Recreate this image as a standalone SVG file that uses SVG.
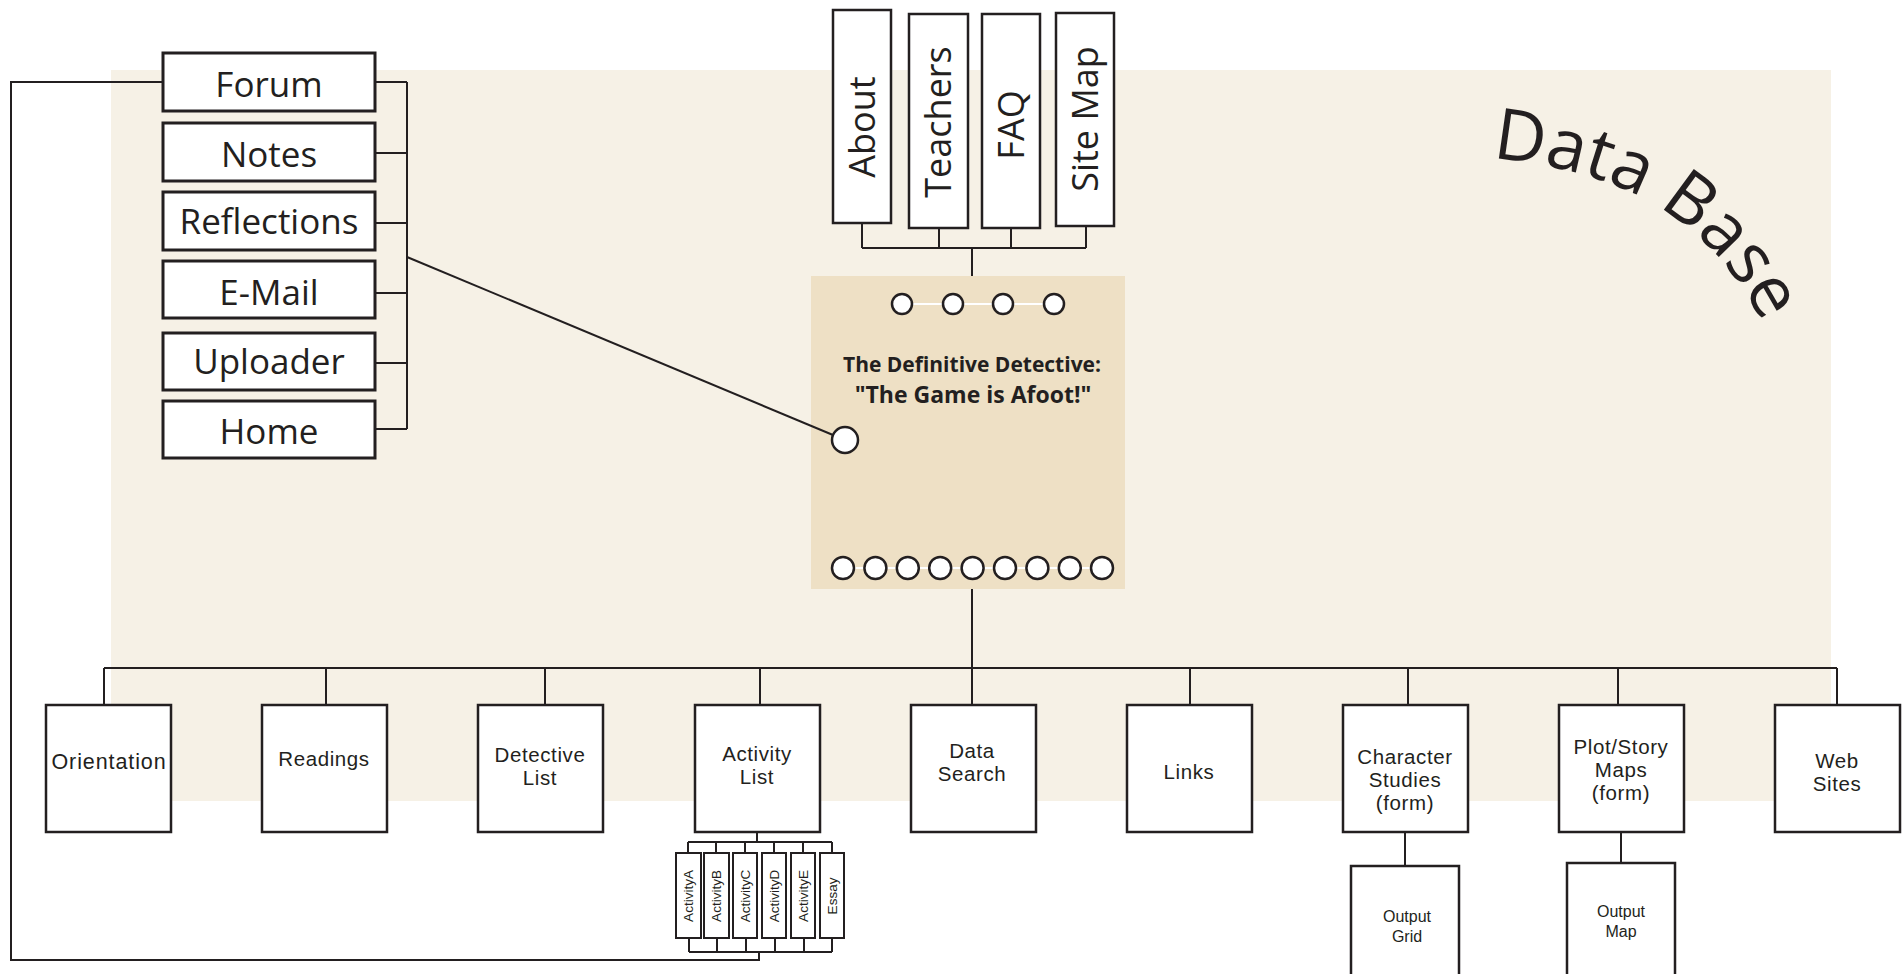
<svg xmlns="http://www.w3.org/2000/svg" width="1904" height="974" viewBox="0 0 1904 974">
<style>
.bx{fill:#fff;stroke:#231F20;stroke-width:2.5}
.bxl{fill:#fff;stroke:#231F20;stroke-width:3}
.ln{fill:none;stroke:#231F20;stroke-width:2}
.t{font-family:"Open Sans","DejaVu Sans",sans-serif;fill:#231F20;text-anchor:middle}
.s{font-family:"Liberation Sans",Arial,sans-serif;fill:#231F20;text-anchor:middle}
.lt{font-size:35px}
.tt{font-size:36px}
.bt{font-size:20.5px;letter-spacing:0.6px}
.at{font-size:13.5px}
.ot{font-size:16px}
.hole{fill:#fff;stroke:#231F20;stroke-width:2.5}
</style>
<defs>
<path id="arc" d="M 1492,158 C 1600,170 1712,200 1775,350"/>
</defs>
<rect x="0" y="0" width="1904" height="974" fill="#fff"/>
<rect id="database" x="111" y="70" width="1720" height="731" fill="#F6F1E6"/>
<text class="t" style="font-size:71px;text-anchor:start"><textPath href="#arc">Data Base</textPath></text>

<g id="forum"><rect class="bxl" x="163" y="53" width="212" height="58"/><text class="t lt" x="269" y="97">Forum</text></g>
<g id="notes"><rect class="bxl" x="163" y="123" width="212" height="58"/><text class="t lt" x="269" y="167">Notes</text></g>
<g id="reflections"><rect class="bxl" x="163" y="192" width="212" height="58"/><text class="t lt" x="269" y="234">Reflections</text></g>
<g id="email"><rect class="bxl" x="163" y="261" width="212" height="57"/><text class="t lt" x="269" y="305">E-Mail</text></g>
<g id="uploader"><rect class="bxl" x="163" y="333" width="212" height="57"/><text class="t lt" x="269" y="374">Uploader</text></g>
<g id="home"><rect class="bxl" x="163" y="401" width="212" height="57"/><text class="t lt" x="269" y="444">Home</text></g>

<g id="about"><rect class="bx" x="833" y="10" width="58" height="213"/><text class="t tt" transform="translate(875,127) rotate(-90)">About</text></g>
<g id="teachers"><rect class="bx" x="909" y="14" width="59" height="214"/><text class="t tt" transform="translate(951,122) rotate(-90)">Teachers</text></g>
<g id="faq"><rect class="bx" x="982" y="14" width="58" height="214"/><text class="t tt" transform="translate(1024,125) rotate(-90)">FAQ</text></g>
<g id="sitemap"><rect class="bx" x="1056" y="13" width="58" height="213"/><text class="t tt" transform="translate(1098,119) rotate(-90)">Site Map</text></g>

<g id="main">
<rect x="811" y="276" width="314" height="313" fill="#EEE0C5"/>
<line x1="902" y1="304" x2="1054" y2="304" stroke="#fff" stroke-width="2"/>
<circle class="hole" cx="902" cy="304" r="10"/><circle class="hole" cx="953" cy="304" r="10"/><circle class="hole" cx="1003" cy="304" r="10"/><circle class="hole" cx="1054" cy="304" r="10"/>
<text class="t" style="font-weight:bold"><tspan x="972" y="372" style="font-size:21px">The Definitive Detective:</tspan><tspan x="973" y="403" style="font-size:23px">"The Game is Afoot!"</tspan></text>
<circle class="hole" cx="845" cy="440" r="13"/>
<line x1="843" y1="568" x2="1102" y2="568" stroke="#fff" stroke-width="2"/>
<circle class="hole" cx="843" cy="568" r="11"/><circle class="hole" cx="875.4" cy="568" r="11"/><circle class="hole" cx="907.8" cy="568" r="11"/><circle class="hole" cx="940.2" cy="568" r="11"/><circle class="hole" cx="972.6" cy="568" r="11"/><circle class="hole" cx="1005" cy="568" r="11"/><circle class="hole" cx="1037.4" cy="568" r="11"/><circle class="hole" cx="1069.8" cy="568" r="11"/><circle class="hole" cx="1102" cy="568" r="11"/>
</g>

<g id="orientation"><rect class="bx" x="46" y="705" width="125" height="127"/><text class="s bt" x="109" y="769" style="font-size:21.5px;letter-spacing:0.9px">Orientation</text></g>
<g id="readings"><rect class="bx" x="262" y="705" width="125" height="127"/><text class="s bt" x="324" y="766">Readings</text></g>
<g id="detective"><rect class="bx" x="478" y="705" width="125" height="127"/><text class="s bt"><tspan x="540" y="762">Detective</tspan><tspan x="540" y="785">List</tspan></text></g>
<g id="activity"><rect class="bx" x="695" y="705" width="125" height="127"/><text class="s bt"><tspan x="757" y="761">Activity</tspan><tspan x="757" y="784">List</tspan></text></g>
<g id="datasearch"><rect class="bx" x="911" y="705" width="125" height="127"/><text class="s bt"><tspan x="972" y="758">Data</tspan><tspan x="972" y="781">Search</tspan></text></g>
<g id="links"><rect class="bx" x="1127" y="705" width="125" height="127"/><text class="s bt" x="1189" y="779">Links</text></g>
<g id="character"><rect class="bx" x="1343" y="705" width="125" height="127"/><text class="s bt"><tspan x="1405" y="764">Character</tspan><tspan x="1405" y="787">Studies</tspan><tspan x="1405" y="810">(form)</tspan></text></g>
<g id="plot"><rect class="bx" x="1559" y="705" width="125" height="127"/><text class="s bt"><tspan x="1621" y="754">Plot/Story</tspan><tspan x="1621" y="777">Maps</tspan><tspan x="1621" y="800">(form)</tspan></text></g>
<g id="websites"><rect class="bx" x="1775" y="705" width="125" height="127"/><text class="s bt"><tspan x="1837" y="768">Web</tspan><tspan x="1837" y="791">Sites</tspan></text></g>

<g id="activityA"><rect class="bx" x="676" y="853" width="25" height="85" style="stroke-width:2"/><text class="s at" transform="translate(693,896) rotate(-90)">ActivityA</text></g>
<g id="activityB"><rect class="bx" x="704" y="853" width="25" height="85" style="stroke-width:2"/><text class="s at" transform="translate(721,896) rotate(-90)">ActivityB</text></g>
<g id="activityC"><rect class="bx" x="733" y="853" width="24" height="85" style="stroke-width:2"/><text class="s at" transform="translate(750,896) rotate(-90)">ActivityC</text></g>
<g id="activityD"><rect class="bx" x="762" y="853" width="24" height="85" style="stroke-width:2"/><text class="s at" transform="translate(779,896) rotate(-90)">ActivityD</text></g>
<g id="activityE"><rect class="bx" x="791" y="853" width="24" height="85" style="stroke-width:2"/><text class="s at" transform="translate(808,896) rotate(-90)">ActivityE</text></g>
<g id="essay"><rect class="bx" x="820" y="853" width="24" height="85" style="stroke-width:2"/><text class="s at" transform="translate(837,896) rotate(-90)">Essay</text></g>

<g id="outputgrid"><rect class="bx" x="1351" y="866" width="108" height="120"/><text class="s ot"><tspan x="1407" y="922">Output</tspan><tspan x="1407" y="942">Grid</tspan></text></g>
<g id="outputmap"><rect class="bx" x="1567" y="863" width="108" height="123"/><text class="s ot"><tspan x="1621" y="917">Output</tspan><tspan x="1621" y="937">Map</tspan></text></g>

<g id="connectors">
<path class="ln" d="M375,82 H407 M375,153 H407 M375,223 H407 M375,293 H407 M375,363 H407 M375,429 H407 M407,82 V429"/>
<path class="ln" d="M407,257 L833,435"/>
<path class="ln" d="M163,82 H11 V960 H759 V952"/>
<path class="ln" d="M862,223 V248 M939,228 V248 M1011,228 V248 M1086,226 V248 M862,248 H1086 M972,248 V276"/>
<path class="ln" d="M972,589 V668 M104,668 H1837 M104,668 V705 M326,668 V705 M545,668 V705 M760,668 V705 M972,668 V705 M1190,668 V705 M1408,668 V705 M1618,668 V705 M1837,668 V705"/>
<path class="ln" d="M757,832 V842 M688,842 H832 M688,842 V853 M716,842 V853 M745,842 V853 M774,842 V853 M803,842 V853 M832,842 V853"/>
<path class="ln" d="M689,938 V952 M717,938 V952 M746,938 V952 M775,938 V952 M804,938 V952 M832,938 V952 M689,952 H832"/>
<path class="ln" d="M1405,832 V866 M1621,832 V863"/>
</g>
</svg>
